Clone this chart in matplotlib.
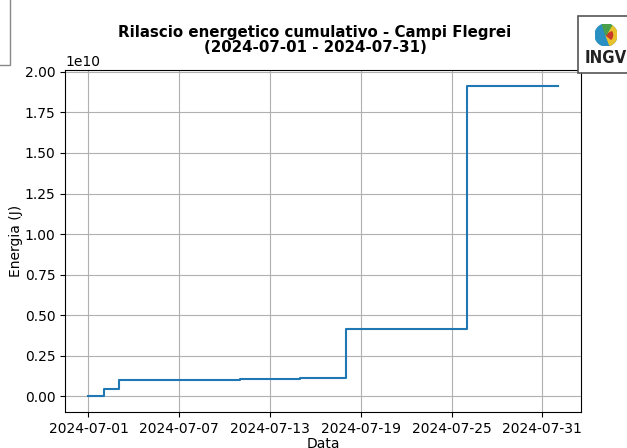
import datetime as dt

import matplotlib.pyplot as plt
import matplotlib.dates as mdates
from matplotlib.patches import Rectangle, Circle, Wedge

# Cumulative energy release, Campi Flegrei, July 2024
event_dates = [
    dt.datetime(2024, 7, 1),
    dt.datetime(2024, 7, 2),
    dt.datetime(2024, 7, 3),
    dt.datetime(2024, 7, 11),
    dt.datetime(2024, 7, 15),
    dt.datetime(2024, 7, 18),
    dt.datetime(2024, 7, 26),
    dt.datetime(2024, 8, 1),
]
cumulative_energy = [
    0.0,
    0.045e10,
    0.102e10,
    0.108e10,
    0.112e10,
    0.415e10,
    1.915e10,
    1.915e10,
]
tick_dates = [dt.datetime(2024, 7, d) for d in (1, 7, 13, 19, 25, 31)]

W, H = 627, 448
fig = plt.figure(figsize=(W / 100, H / 100), dpi=100)
ax = fig.add_axes([65 / W, 1 - 412 / H, (581 - 65) / W, (412 - 70) / H])

ax.plot(event_dates, cumulative_energy, drawstyle="steps-post", color="#1f77b4", linewidth=1.5)

ax.set_xticks(tick_dates)
ax.xaxis.set_major_formatter(mdates.DateFormatter("%Y-%m-%d"))
ax.set_yticks([0, 0.25e10, 0.5e10, 0.75e10, 1.0e10, 1.25e10, 1.5e10, 1.75e10, 2.0e10])
ax.set_xlabel("Data", labelpad=1)
ax.set_ylabel("Energia (J)", labelpad=1)
ax.grid(True)

fig.text(315 / W, 1 - 40 / H,
         "Rilascio energetico cumulativo - Campi Flegrei\n(2024-07-01 - 2024-07-31)",
         ha="center", va="center", fontsize=10.8, fontweight="bold", linespacing=1.05)

# INGV logo box (approximation)
fig.patches.append(Rectangle((578 / W, 1 - 73 / H), 60 / W, 57 / H,
                             transform=fig.transFigure, facecolor="white",
                             edgecolor="#555555", linewidth=1.2))
globe_ax = fig.add_axes([595 / W, 1 - 46 / H, 22 / W, 22 / H], zorder=5)
globe_ax.set_xlim(-1, 1)
globe_ax.set_ylim(-1, 1)
globe_ax.set_aspect("equal")
globe_ax.axis("off")
globe_ax.add_patch(Circle((0, 0), 1, color="#2a8fc1"))
globe_ax.add_patch(Wedge((0, 0), 1, -70, 60, color="#e8c22a"))
globe_ax.add_patch(Wedge((0, 0), 0.6, -40, 30, color="#c83a2a"))
globe_ax.add_patch(Wedge((0, 0), 1, 60, 110, color="#4aa04a"))
fig.text(606 / W, 1 - 58 / H, "INGV", ha="center", va="center", zorder=6,
         fontsize=12, fontweight="bold", fontstretch="condensed", color="#222222")

# faint box edge at top-left
fig.patches.append(Rectangle((-20 / W, 1 - 65 / H), 30 / W, 70 / H,
                             transform=fig.transFigure, facecolor="none",
                             edgecolor="#888888", linewidth=1.0))

fig.savefig("out.png", dpi=100)
